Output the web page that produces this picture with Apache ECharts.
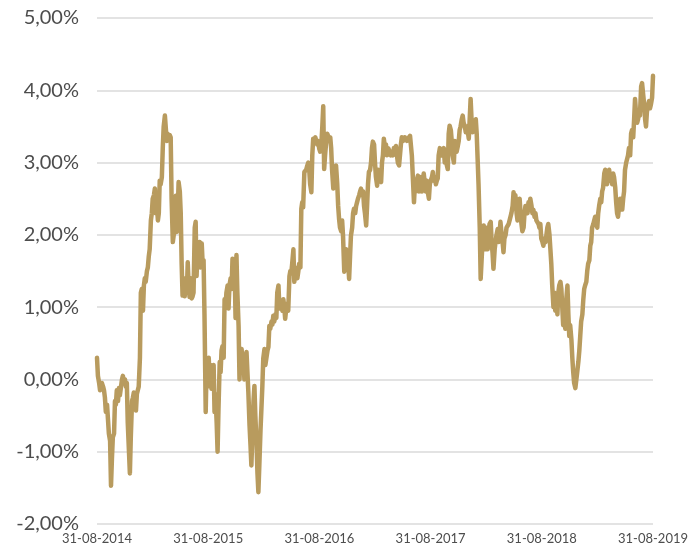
<!DOCTYPE html>
<html>
<head>
<meta charset="utf-8">
<script src="https://cdn.jsdelivr.net/npm/echarts@6/dist/echarts.min.js"></script>
<style>html,body{margin:0;padding:0;background:#fff}#c{width:691px;height:550px}</style>
</head>
<body>
<div id="c"></div>
<script>
// x-axis tick labels (one per year, 31 August)
const tickLabels = ['31-08-2014', '31-08-2015', '31-08-2016', '31-08-2017', '31-08-2018', '31-08-2019'];
const totalDays = 1826; // 31-08-2014 .. 31-08-2019

// day offsets from 31-08-2014 of the sampled points
const dayOffsets = [
0,3,7,10,13,16,20,23,26,29,
33,36,39,43,46,49,52,56,59,62,
65,69,72,75,79,82,85,88,92,95,
98,101,105,108,111,115,118,121,124,128,
131,134,137,141,144,147,151,154,157,160,
164,167,170,173,177,180,183,187,190,193,
196,200,203,206,209,213,216,219,223,226,
229,232,236,239,242,245,249,252,255,259,
262,265,268,272,275,278,281,285,288,291,
295,298,301,304,308,311,314,317,321,324,
327,331,334,337,340,344,347,350,353,357,
360,363,367,370,373,376,380,383,386,389,
393,396,399,403,406,409,412,416,419,422,
425,429,432,435,439,442,445,448,452,455,
458,461,465,468,471,475,478,481,484,488,
491,494,497,501,504,507,510,514,517,520,
524,527,530,533,537,540,543,546,550,553,
556,560,563,566,569,573,576,579,582,586,
589,592,596,599,602,605,609,612,615,618,
622,625,628,632,635,638,641,645,648,651,
654,658,661,664,668,671,674,677,681,684,
687,690,694,697,700,704,707,710,713,717,
720,723,726,730,733,736,740,743,746,749,
753,756,759,762,766,769,772,776,779,782,
785,789,792,795,798,802,805,808,812,815,
818,821,825,828,831,834,838,841,844,848,
851,854,857,861,864,867,870,874,877,880,
884,887,890,893,897,900,903,906,910,913,
916,920,923,926,929,933,936,939,942,946,
949,952,956,959,962,965,969,972,975,978,
982,985,988,992,995,998,1001,1005,1008,1011,
1014,1018,1021,1024,1028,1031,1034,1037,1041,1044,
1047,1050,1054,1057,1060,1064,1067,1070,1073,1077,
1080,1083,1086,1090,1093,1096,1100,1103,1106,1109,
1113,1116,1119,1122,1126,1129,1132,1136,1139,1142,
1145,1149,1152,1155,1158,1162,1165,1168,1172,1175,
1178,1181,1185,1188,1191,1194,1198,1201,1204,1208,
1211,1214,1217,1221,1224,1227,1230,1234,1237,1240,
1244,1247,1250,1253,1257,1260,1263,1266,1270,1273,
1276,1280,1283,1286,1289,1293,1296,1299,1302,1306,
1309,1312,1316,1319,1322,1325,1329,1332,1335,1338,
1342,1345,1348,1352,1355,1358,1361,1365,1368,1371,
1374,1378,1381,1384,1388,1391,1394,1397,1401,1404,
1407,1410,1414,1417,1420,1423,1427,1430,1433,1437,
1440,1443,1446,1450,1453,1456,1459,1463,1466,1469,
1473,1476,1479,1482,1486,1489,1492,1495,1499,1502,
1505,1509,1512,1515,1518,1522,1525,1528,1531,1535,
1538,1541,1545,1548,1551,1554,1558,1561,1564,1567,
1571,1574,1577,1581,1584,1587,1590,1594,1597,1600,
1603,1607,1610,1613,1617,1620,1623,1626,1630,1633,
1636,1639,1643,1646,1649,1653,1656,1659,1662,1666,
1669,1672,1675,1679,1682,1685,1689,1692,1695,1698,
1702,1705,1708,1711,1715,1718,1721,1725,1728,1731,
1734,1738,1741,1744,1747,1751,1754,1757,1761,1764,
1767,1770,1774,1777,1780,1783,1787,1790,1793,1797,
1800,1803,1806,1810,1813,1816,1819,1823,1826
];

// series values in percent
const values = [
0.30,0.05,-0.05,-0.15,-0.1,-0.05,-0.1,-0.15,-0.25,-0.45,
-0.35,-0.55,-0.75,-0.85,-1.47,-1.1,-0.8,-0.75,-0.3,-0.35,
-0.15,-0.3,-0.12,-0.22,-0.1,0.0,0.05,-0.05,0.0,-0.1,
-0.05,-0.6,-1.0,-1.3,-0.8,-0.3,-0.25,-0.18,-0.2,-0.43,
-0.2,-0.15,-0.1,0.3,1.2,1.25,0.95,1.3,1.4,1.35,
1.5,1.55,1.7,1.8,2.2,2.3,2.5,2.55,2.64,2.3,
2.45,2.2,2.3,2.75,2.7,2.8,3.2,3.5,3.65,3.67,
3.3,3.4,3.35,3.38,3.35,2.5,1.9,2.0,2.2,2.54,
2.04,2.3,2.73,2.6,2.3,1.6,1.16,1.3,1.15,1.4,
1.2,1.62,1.3,1.14,1.4,1.12,1.15,1.2,2.1,2.18,
1.43,1.9,1.7,1.9,1.55,1.88,1.6,1.65,0.9,-0.45,
0.2,-0.1,0.3,-0.05,0.2,-0.13,0.1,0.2,-0.45,-0.2,
-0.6,-1.0,-0.4,0.24,0.1,0.4,0.46,0.3,1.11,1.0,
1.2,1.3,0.98,1.3,1.4,1.25,1.67,1.5,1.55,0.85,
1.72,1.2,0.74,0.0,0.3,0.42,0.15,0.35,0.0,0.3,
0.38,0.1,-0.17,-0.64,-0.9,-1.19,-0.8,-0.3,-0.09,-0.5,
-0.9,-1.3,-1.56,-1.2,-0.7,-0.4,-0.1,0.29,0.42,0.2,
0.19,0.4,0.45,0.74,0.7,0.8,0.76,0.88,0.8,0.9,
0.85,1.2,1.3,0.98,1.1,1.1,0.95,1.11,1.0,0.84,
1.0,1.05,0.95,1.43,1.5,1.47,1.6,1.8,1.35,1.55,
1.5,1.4,1.49,1.6,1.55,2.36,2.45,2.38,2.87,2.85,
2.9,2.95,3.0,2.9,2.7,2.59,3.1,3.33,3.3,3.35,
3.3,3.25,3.3,3.19,3.15,3.2,3.5,3.78,2.91,3.1,
3.3,3.4,3.37,3.3,3.35,3.2,2.9,2.64,2.7,2.85,
2.96,2.7,2.4,2.22,2.1,2.05,2.2,1.99,1.49,1.7,
1.8,1.75,1.6,1.39,1.7,1.99,2.1,2.3,2.36,2.3,
2.4,2.45,2.5,2.55,2.6,2.64,2.55,2.6,2.4,2.3,
2.13,2.4,2.7,2.87,2.9,3.0,3.2,3.29,3.25,3.0,
2.8,2.68,2.9,2.75,2.8,2.73,3.0,3.1,3.33,3.2,
3.25,3.1,3.2,3.19,3.15,3.1,3.15,3.1,3.2,3.15,
3.23,3.1,3.0,2.96,3.1,3.25,3.35,3.3,3.32,3.35,
3.37,3.3,3.33,3.35,3.37,3.35,3.1,2.82,2.45,2.7,
2.6,2.75,2.82,2.6,2.75,2.8,2.6,2.7,2.85,2.7,
2.6,2.75,2.6,2.5,2.7,2.75,2.8,2.87,2.75,2.8,
2.7,2.75,2.78,3.1,3.2,3.19,3.1,3.15,3.2,3.0,
3.1,2.96,2.91,3.4,3.51,3.45,3.3,3.1,3.0,3.3,
3.2,3.15,3.23,3.3,3.45,3.5,3.6,3.65,3.55,3.5,
3.42,3.5,3.45,3.33,3.6,3.88,3.6,3.42,3.5,3.55,
3.6,3.4,3.05,2.7,2.1,1.39,1.4,1.9,2.13,1.9,
1.8,2.1,1.8,1.9,2.15,2.18,1.9,1.75,1.53,1.8,
1.9,2.0,2.08,1.9,2.0,2.18,2.0,1.9,1.76,1.95,
2.0,2.1,2.08,2.15,2.2,2.22,2.3,2.4,2.59,2.5,
2.55,2.3,2.2,2.35,2.5,2.3,2.15,2.05,2.1,2.3,
2.4,2.35,2.3,2.45,2.4,2.5,2.4,2.3,2.35,2.25,
2.3,2.2,2.2,2.15,2.1,2.15,1.95,1.9,1.85,1.95,
1.9,2.0,2.1,2.15,2.0,1.8,1.6,1.3,1.0,1.2,
0.95,1.1,0.9,1.2,1.3,1.35,1.25,1.0,0.75,0.8,
0.7,1.1,1.3,0.9,0.6,0.75,0.55,0.3,0.1,-0.05,
-0.12,-0.1,0.1,0.25,0.4,0.6,0.8,0.9,1.1,1.25,
1.3,1.35,1.5,1.6,1.65,1.85,1.9,2.1,2.15,2.2,
2.25,2.15,2.1,2.3,2.4,2.5,2.45,2.6,2.65,2.85,
2.9,2.8,2.7,2.85,2.9,2.75,2.8,2.7,2.85,2.8,
2.65,2.45,2.3,2.25,2.4,2.5,2.45,2.35,2.5,2.6,
2.9,3.0,3.05,3.1,3.2,3.1,3.4,3.45,3.35,3.6,
3.88,3.7,3.55,3.6,3.7,3.65,4.05,4.1,4.12,3.8,
3.6,3.5,3.7,3.8,3.85,3.75,3.8,3.9,4.2
];

const seriesData = dayOffsets.map((d, i) => [d, values[i]]);
const yearStep = totalDays / (tickLabels.length - 1);

const chart = echarts.init(document.getElementById('c'), null, { renderer: 'canvas' });
chart.setOption({
  animation: false,
  backgroundColor: '#ffffff',
  grid: { left: 97, right: 36, top: 18, bottom: 26, containLabel: false },
  xAxis: {
    type: 'value',
    min: 0,
    max: totalDays,
    interval: yearStep,
    axisLine: { show: false },
    axisTick: { show: false },
    splitLine: { show: false },
    axisLabel: {
      margin: 8,
      fontSize: 13,
      color: '#4d4d4d',
      fontFamily: 'Lato',
      formatter: v => tickLabels[Math.round(v / yearStep)] || ''
    }
  },
  yAxis: {
    type: 'value',
    min: -2,
    max: 5,
    interval: 1,
    axisLine: { show: false },
    axisTick: { show: false },
    splitLine: { show: true, lineStyle: { color: '#e3e3e3', width: 2 } },
    axisLabel: {
      margin: 18,
      fontSize: 20,
      color: '#4d4d4d',
      fontFamily: 'Lato',
      fontWeight: 'normal',
      formatter: v => v.toFixed(2).replace('.', ',') + '%'
    }
  },
  series: [{
    type: 'line',
    data: seriesData,
    showSymbol: false,
    symbol: 'none',
    lineStyle: { color: '#b89b5e', width: 4.5, cap: 'round', join: 'round' },
    itemStyle: { color: '#b89b5e' }
  }]
});
</script>
</body>
</html>
